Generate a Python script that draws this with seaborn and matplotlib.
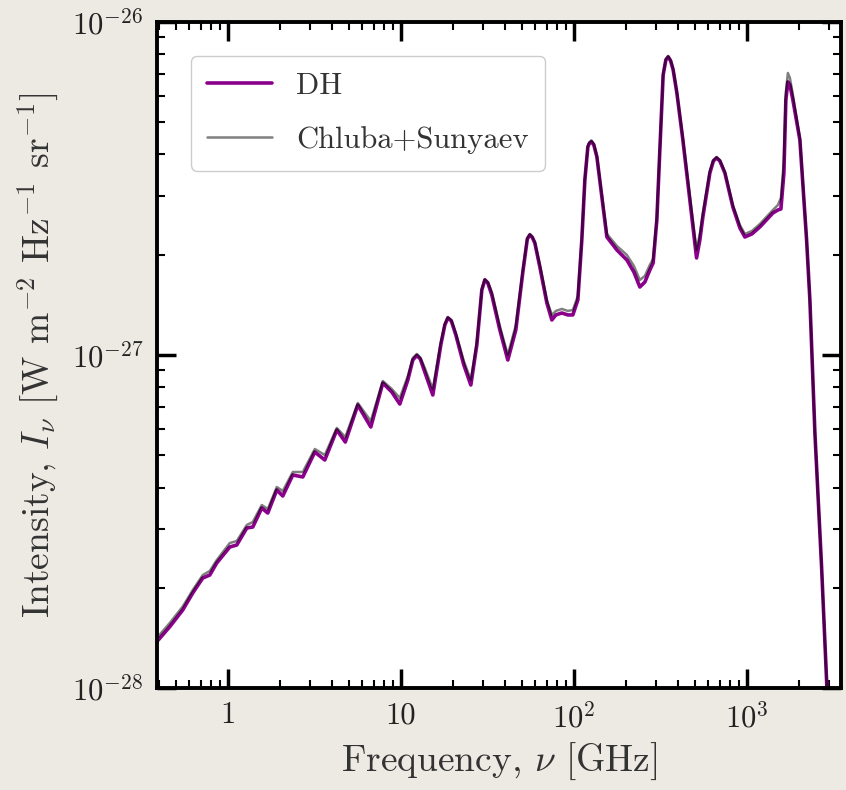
import numpy as np
import pandas as pd
import matplotlib
matplotlib.use("Agg")
import matplotlib.pyplot as plt
import seaborn as sns
from matplotlib.ticker import FixedLocator, FixedFormatter, LogLocator, NullFormatter

# Frequency [GHz]
freq = [0.3886, 0.4622, 0.5493, 0.6275, 0.7169, 0.7870, 0.8638, 1.027, 1.127, 1.288,
        1.395, 1.572, 1.703, 1.920, 2.079, 2.376, 2.714, 3.184, 3.637, 4.267,
        4.778, 5.642, 6.708, 7.870, 8.872, 9.868, 10.98, 11.73, 12.38, 12.96,
        13.76, 15.31, 17.03, 17.96, 18.70, 19.59, 20.80, 23.13, 25.39, 27.50,
        29.39, 30.59, 31.84, 33.57, 37.35, 41.54, 46.20, 50.73, 53.85, 55.68,
        57.56, 59.51, 63.62, 69.83, 74.64, 78.70, 85.23, 92.34, 98.67, 105.5,
        111.2, 115.8, 120.5, 122.9, 126.3, 130.5, 135.9, 145.2, 155.2, 177.3,
        202.5, 222.3, 240.7, 257.3, 275.0, 287.3, 301.8, 314.1, 328.2, 340.3,
        350.9, 362.6, 375.0, 393.9, 426.7, 468.2, 512.0, 534.9, 556.8, 611.1,
        640.3, 668.3, 698.2, 746.3, 830.0, 911.1, 973.6, 1069, 1189, 1414,
        1511, 1573, 1637, 1680, 1726, 1773, 1845, 2025, 2214, 2313,
        2473, 2703, 2900, 3099]

# Intensity in units of 1e-28 W m^-2 Hz^-1 sr^-1 (DH)
dh = [1.377, 1.528, 1.715, 1.929, 2.139, 2.184, 2.374, 2.651, 2.688, 3.023,
      3.044, 3.471, 3.353, 3.932, 3.772, 4.362, 4.302, 5.113, 4.838, 5.954,
      5.478, 7.074, 6.079, 8.239, 7.741, 7.124, 8.412, 9.660, 9.966, 9.727,
      8.891, 7.584, 10.72, 12.30, 12.92, 12.65, 11.48, 9.333, 8.126, 10.72,
      15.67, 16.80, 16.45, 15.14, 11.89, 9.660, 11.89, 17.75, 22.30, 22.93,
      22.53, 21.69, 18.38, 14.33, 12.74, 13.19, 13.37, 13.19, 13.19, 14.63,
      22.15, 33.54, 42.13, 43.17, 43.71, 42.72, 39.32, 29.82, 22.61, 20.67,
      19.29, 17.75, 16.00, 16.56, 18.00, 18.89, 25.43, 41.27, 69.31, 76.90,
      78.52, 76.37, 71.76, 61.23, 44.22, 29.21, 19.56, 22.15, 25.96, 35.20,
      38.24, 39.05, 38.24, 35.20, 27.82, 24.07, 22.61, 23.09, 24.24, 26.69,
      27.25, 27.44, 35.20, 58.32, 66.06, 64.70, 58.32, 44.22, 22.15, 14.63,
      5.834, 2.308, 1.007, 0.53]

# Intensity in units of 1e-28 W m^-2 Hz^-1 sr^-1 (Chluba+Sunyaev)
cs = [1.413, 1.568, 1.757, 1.969, 2.184, 2.246, 2.423, 2.725, 2.763, 3.087,
      3.152, 3.544, 3.447, 4.014, 3.905, 4.453, 4.453, 5.220, 5.008, 6.037,
      5.672, 7.174, 6.336, 8.354, 7.903, 7.426, 8.648, 9.795, 10.07, 9.829,
      9.141, 7.903, 10.94, 12.39, 13.00, 12.74, 11.64, 9.594, 8.412, 10.94,
      15.78, 16.91, 16.56, 15.46, 12.22, 10.00, 12.30, 18.00, 22.46, 23.09,
      22.69, 21.84, 18.64, 14.63, 13.19, 13.56, 13.75, 13.56, 13.65, 15.04,
      22.46, 33.77, 42.43, 43.47, 44.07, 43.01, 39.60, 30.23, 23.09, 21.25,
      19.97, 18.51, 16.80, 17.27, 18.64, 19.43, 25.96, 41.85, 69.79, 77.43,
      79.06, 76.90, 72.26, 61.66, 44.84, 30.02, 20.67, 23.09, 26.69, 35.70,
      38.51, 39.32, 38.51, 35.45, 28.20, 24.57, 23.09, 23.57, 24.74, 27.25,
      28.20, 29.62, 38.51, 61.66, 70.28, 67.90, 60.39, 44.84, 22.30, 14.63,
      5.834, 2.308, 1.007, 0.53]

labels = ["DH", "Chluba+Sunyaev"]
xtick_vals = [1, 10, 100, 1000]
xtick_labels = ["1", "10", r"$10^2$", r"$10^3$"]
ytick_vals = [1e-28, 1e-27, 1e-26]
ytick_labels = [r"$10^{-28}$", r"$10^{-27}$", r"$10^{-26}$"]

assert len(freq) == len(dh) == len(cs)

sns.set_style("ticks")
plt.rcParams.update({
    "font.family": ["cmr10"],
    "mathtext.fontset": "cm",
    "axes.formatter.use_mathtext": True,
    "axes.unicode_minus": False,
})

df_dh = pd.DataFrame({"freq": freq, "I": np.array(dh) * 1e-28})
df_cs = pd.DataFrame({"freq": freq, "I": np.array(cs) * 1e-28})

fig = plt.figure(figsize=(8.46, 7.9), dpi=100, facecolor="#EDEAE3")
ax = fig.add_axes([0.1856, 0.1291, 0.8085, 0.8431])
ax.set_facecolor("white")

sns.lineplot(data=df_dh, x="freq", y="I", ax=ax, color="#8B008B", lw=2.6,
             label=labels[0], sort=False, estimator=None)
sns.lineplot(data=df_cs, x="freq", y="I", ax=ax, color="k", alpha=0.5, lw=1.8,
             label=labels[1], sort=False, estimator=None)

ax.set_xscale("log")
ax.set_yscale("log")
ax.set_xlim(0.39, 3500)
ax.set_ylim(1e-28, 1e-26)

ax.xaxis.set_major_locator(FixedLocator(xtick_vals))
ax.xaxis.set_major_formatter(FixedFormatter(xtick_labels))
ax.xaxis.set_minor_locator(LogLocator(base=10, subs=np.arange(2, 10)))
ax.xaxis.set_minor_formatter(NullFormatter())
ax.yaxis.set_major_locator(FixedLocator(ytick_vals))
ax.yaxis.set_major_formatter(FixedFormatter(ytick_labels))
ax.yaxis.set_minor_locator(LogLocator(base=10, subs=np.arange(2, 10)))
ax.yaxis.set_minor_formatter(NullFormatter())

ax.tick_params(which="both", direction="in", top=True, right=True, colors="black",
               labelcolor="#222222")
ax.tick_params(which="major", length=14, width=2.5, labelsize=22, pad=10)
ax.tick_params(which="minor", length=6, width=1.5)
for s in ax.spines.values():
    s.set_linewidth(2.8)
    s.set_color("black")

ax.set_xlabel(r"Frequency, $\nu$ [GHz]", fontsize=27, color="#333333", labelpad=6)
ax.set_ylabel(r"Intensity, $I_\nu$ [W m$^{-2}$ Hz$^{-1}$ sr$^{-1}$]", fontsize=27,
              color="#333333", labelpad=8)

leg = ax.legend(loc="upper left", fontsize=22, frameon=True, fancybox=True,
                edgecolor="#cccccc", framealpha=1, borderaxespad=1.1,
                borderpad=0.55, labelspacing=0.85, handlelength=2.1,
                handletextpad=0.8)
leg.get_frame().set_linewidth(1.0)
for t in leg.get_texts():
    t.set_color("#333333")

fig.savefig("out.png", dpi=100, facecolor=fig.get_facecolor())
